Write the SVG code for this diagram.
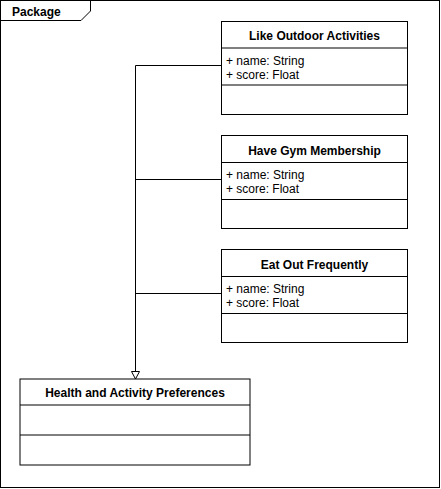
<svg xmlns="http://www.w3.org/2000/svg" width="441" height="489" viewBox="0 0 441 489">
<style>
.frame{fill:#fff;stroke:#000;stroke-width:1}
.box{fill:#fff;stroke:#000;stroke-width:1}
.div{stroke:#000;stroke-width:1;fill:none}
.conn{stroke:#000;stroke-width:1;fill:none}
.title{font-family:"Liberation Sans",Arial,Helvetica,sans-serif;font-size:12px;font-weight:bold;fill:#000;text-anchor:middle}
.attr{font-family:"Liberation Sans",Arial,Helvetica,sans-serif;font-size:12px;fill:#000}
.pkg{font-family:"Liberation Sans",Arial,Helvetica,sans-serif;font-size:12px;font-weight:bold;fill:#000}
</style>
<defs>
<marker id="gen" markerWidth="12" markerHeight="12" refX="8" refY="4.5" orient="auto" markerUnits="userSpaceOnUse" viewBox="0 0 12 12">
<path d="M0.5,0.5 L8,4.5 L0.5,8.5 Z" fill="#fff" stroke="#000" stroke-width="1"/>
</marker>
</defs>
<g id="package">
<rect class="frame" x="0.5" y="0.5" width="439" height="487"/>
<path class="div" d="M0.5,20.5 H81 L90.5,11 V0.5"/>
<text class="pkg" x="12" y="16">Package</text>
</g>
<g id="connectors">
<path class="conn" d="M221,65.5 H135.5 V371"/>
<path class="conn" d="M221,179.5 H135.5"/>
<path class="conn" d="M221,293.5 H135.5"/>
<path d="M135.5,379 L131.5,371.5 H139.5 Z" fill="#fff" stroke="#000" stroke-width="1"/>
</g>
<g id="like-outdoor">
<rect class="box" x="221.5" y="21.5" width="186" height="93"/>
<line class="div" x1="221.5" y1="48" x2="407.5" y2="48"/>
<line class="div" x1="221.5" y1="85" x2="407.5" y2="85"/>
<text class="title" x="314.5" y="40">Like Outdoor Activities</text>
<text class="attr" x="226" y="64.5">+ name: String</text>
<text class="attr" x="226" y="79">+ score: Float</text>
</g>
<g id="gym">
<rect class="box" x="221.5" y="135.5" width="186" height="93"/>
<line class="div" x1="221.5" y1="162.5" x2="407.5" y2="162.5"/>
<line class="div" x1="221.5" y1="199.5" x2="407.5" y2="199.5"/>
<text class="title" x="314.5" y="155">Have Gym Membership</text>
<text class="attr" x="226" y="178.5">+ name: String</text>
<text class="attr" x="226" y="193">+ score: Float</text>
</g>
<g id="eat-out">
<rect class="box" x="221.5" y="249.5" width="186" height="93"/>
<line class="div" x1="221.5" y1="276.5" x2="407.5" y2="276.5"/>
<line class="div" x1="221.5" y1="313.5" x2="407.5" y2="313.5"/>
<text class="title" x="314.5" y="269">Eat Out Frequently</text>
<text class="attr" x="226" y="292.5">+ name: String</text>
<text class="attr" x="226" y="307">+ score: Float</text>
</g>
<g id="health">
<rect class="box" x="20" y="379" width="230" height="86"/>
<line class="div" x1="20" y1="405" x2="250" y2="405"/>
<line class="div" x1="20" y1="435" x2="250" y2="435"/>
<text class="title" x="135" y="397">Health and Activity Preferences</text>
</g>
</svg>
